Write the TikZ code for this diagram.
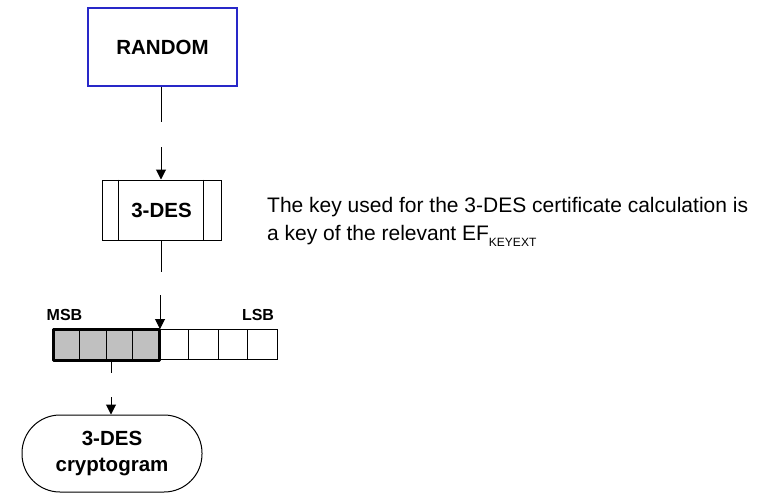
\documentclass[tikz,border=0pt]{standalone}
\usepackage{fontspec}
\setmainfont{Liberation Sans}
\usetikzlibrary{arrows.meta}
\definecolor{boxblue}{RGB}{40,40,200}
\definecolor{cellgray}{RGB}{192,192,192}
\begin{document}
\begin{tikzpicture}[x=1pt,y=-1pt,
  lbl/.style={font=\bfseries\fontsize{20.5}{26}\selectfont},
  small/.style={font=\bfseries\fontsize{16}{18}\selectfont},
  notetext/.style={font=\fontsize{21}{28}\selectfont,inner sep=0pt,anchor=base west},
  link/.style={draw=black,line width=1pt},
  flow/.style={link,-{Triangle[width=10pt,length=10pt]}},
  cell/.style={draw=black,line width=1pt,minimum width=29.75pt,minimum height=30pt,inner sep=0pt,anchor=north west},
  gcell/.style={cell,fill=cellgray,minimum width=26.25pt}]
\useasboundingbox (0,0) rectangle (770,493);

% random source
\node[draw=boxblue,line width=2pt,minimum width=149pt,minimum height=78pt,inner sep=0pt,lbl] (rnd) at (162.5,47) {RANDOM};

% 3-DES process box with side bars
\node[draw,line width=1pt,minimum width=119pt,minimum height=60pt,inner sep=0pt,lbl] (des) at (161.5,210) {3-DES};
\draw[line width=1pt] ([xshift=17pt]des.north west) -- ([xshift=17pt]des.south west)
  ([xshift=-18pt]des.north east) -- ([xshift=-18pt]des.south east);

% 8-cell register: 4 grey high-order cells, 4 white low-order cells
\foreach \i in {0,...,3} {
  \node[gcell] (g\i) at ({53+26.25*\i},329) {};
}
\foreach \i in {0,...,3} {
  \node[cell] (w\i) at ({158+29.75*\i},329) {};
}
\draw[line width=3pt,line join=round] (g0.north west) rectangle (g3.south east);
\node[small,anchor=base] (msb) at (64.5,320) {MSB};
\node[small,anchor=base] (lsb) at (258,320) {LSB};

% resulting cryptogram
\node[draw,line width=1pt,rounded corners=38pt,minimum width=180pt,minimum height=77pt,inner sep=0pt,align=center,lbl] (cry) at (112,453.5) {3-DES\\cryptogram};

% key note
\node[notetext] (note1) at (267,212) {The key used for the 3-DES certificate calculation is};
\node[notetext] (note2) at (267,240) {a key of the relevant EF\raisebox{-6pt}{\fontsize{12}{12}\selectfont KEYEXT}};

% connectors
\coordinate (c1) at (161,122);
\coordinate (c2) at (161,147);
\coordinate (c3) at (161,272);
\coordinate (c4) at (160,295);
\coordinate (c5) at (111,373);
\coordinate (c6) at (111,397);
\draw[link] (rnd.south -| c1) -- (c1);
\draw[flow] (c2) -- (des.north -| c2);
\draw[link] (des.south -| c3) -- (c3);
\draw[flow] (c4) -- (g3.north -| c4);
\draw[link] (g2.south -| c5) -- (c5);
\draw[flow] (c6) -- (cry.north -| c6);
\end{tikzpicture}
\end{document}
